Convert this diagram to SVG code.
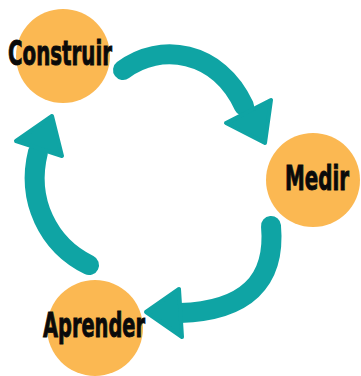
<svg xmlns="http://www.w3.org/2000/svg" width="361" height="376" viewBox="0 0 361 376">
  <style>
    .node circle { fill: #fbb852; }
    .node text { font-family: "DejaVu Sans Condensed", "Liberation Sans Narrow", "Liberation Sans", sans-serif; font-weight: bold; font-size: 34px; fill: #0a0a0a; stroke: #0a0a0a; stroke-width: 0.9; }
    .link { fill: none; stroke: #0fa4a4; stroke-width: 20; stroke-linecap: round; }
    .head { fill: #0fa4a4; stroke: #0fa4a4; stroke-width: 4; stroke-linejoin: round; }
  </style>
  <rect width="361" height="376" fill="#ffffff"/>

  <g id="connectors">
    <!-- Construir -> Medir -->
    <path class="link" d="M123,70 C160,42 218,50 244,106"/>
    <polygon class="head" points="226,123 271,100 265,143"/>
    <!-- Medir -> Aprender -->
    <path class="link" d="M271,226 C276,282 245,311 180,313"/>
    <polygon class="head" points="179,289 182,337 146,312"/>
    <!-- Aprender -> Construir -->
    <path class="link" d="M89,265 C48,245 26,200 38,152"/>
    <polygon class="head" points="16,141 62,156 52,116"/>
  </g>

  <g id="construir" class="node">
    <circle cx="63" cy="56" r="47"/>
    <text x="8" y="65" textLength="104" lengthAdjust="spacingAndGlyphs">Construir</text>
  </g>

  <g id="medir" class="node">
    <circle cx="313" cy="180" r="47"/>
    <text x="285" y="190" textLength="64" lengthAdjust="spacingAndGlyphs">Medir</text>
  </g>

  <g id="aprender" class="node">
    <circle cx="95" cy="328" r="48"/>
    <text x="43" y="337" textLength="102" lengthAdjust="spacingAndGlyphs">Aprender</text>
  </g>
</svg>
